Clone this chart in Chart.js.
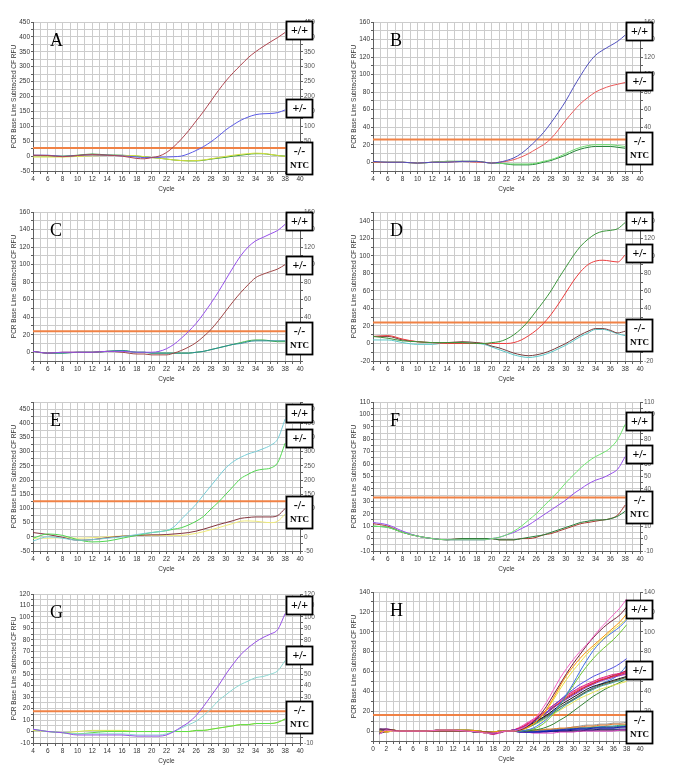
<!DOCTYPE html>
<html>
<head>
<meta charset="utf-8">
<script src="https://cdn.jsdelivr.net/npm/chart.js@4/dist/chart.umd.min.js"></script>
<style>
  html, body { margin: 0; padding: 0; background: #fff; }
  #page { position: relative; width: 685px; height: 769px; overflow: hidden; background: #fff; }
  canvas { position: absolute; }
</style>
</head>
<body>
<div id="page"></div>
<script>
// --- cycles ---
const cyc  = [4,6,8,10,12,14,16,18,19,20,21,22,23,24,25,26,27,28,29,30,31,32,33,34,35,36,37,38];
const cycH = [1,2,3,4,6,8,10,12,14,16,17,18,19,20,21,22,23,24,25,26,27,28,29,30,31,32,33,34,35,36,37,38];

// --- A ---
const aPP  = [3,2,-2,2,5,3,0,-8,-9,-5,0,12,32,57,86,118,150,185,220,252,280,305,330,350,367,383,398,415];
const aPM  = [3,3,-1,2,4,3,1,-3,-5,-5,-4,-3,-2,0,8,19,32,48,67,88,105,120,131,139,142,143,146,155];
const aMM  = [2,1,0,3,7,4,3,0,-2,-5,-7,-10,-13,-15,-16,-16,-14,-10,-7,-4,0,3,6,8,8,5,2,0];
const aNTC = [-3,-3,-3,-1,1,2,2,1,-2,-5,-7,-10,-13,-15,-16,-15,-13,-9,-5,-1,3,6,8,10,9,6,2,-1];
// --- B ---
const bPP  = [1,0,0,-1,0,0,1,1,0,-1,0,2,5,10,17,25,34,45,57,70,85,99,112,122,128,133,138,145];
const bPM  = [0,0,0,-1,0,0,1,0,0,-1,0,1,3,6,10,15,20,27,37,48,58,67,74,80,84,87,89,91];
const bMM  = [0,0,0,-1,0,1,1,1,0,-1,-1,-2,-3,-3,-3,-2,0,2,5,8,12,15,17,18,18,18,17,16];
const bNTC = [0,0,0,-1,0,1,1,1,0,-1,-1,-2,-2,-2,-2,-1,1,3,6,10,14,17,19,20,20,20,19,18];
// --- C ---
const cPP  = [1,-1,0,0,0,1,1,0,0,0,1,4,9,16,24,33,44,56,69,83,97,110,120,127,131,135,139,146];
const cPM  = [1,-1,0,0,0,1,0,-2,-2,-3,-3,-3,-1,2,6,11,18,26,36,47,58,68,77,85,89,92,95,100];
const cMM  = [1,-1,-1,0,0,1,2,0,0,-1,-1,-1,-1,-1,-1,0,1,3,5,7,9,10,12,13,13,13,13,13];
const cNTC = [1,-1,-1,0,0,1,2,0,0,-1,-1,-1,-1,-1,-1,0,1,3,5,7,9,11,13,14,14,13,12,12];
// --- D ---
const dPP  = [8,6,3,2,1,1,1,0,0,1,2,5,10,17,26,37,48,60,74,87,100,111,119,125,128,129,131,138];
const dPM  = [8,9,5,2,1,0,0,0,0,0,0,0,1,4,9,15,23,33,45,58,71,82,90,94,95,94,93,101];
const dMM  = [8,8,4,2,1,1,2,1,0,-3,-5,-8,-11,-13,-14,-13,-11,-8,-4,0,5,10,14,17,17,15,12,14];
const dNTC = [4,4,1,-1,-1,1,1,0,-1,-4,-7,-10,-13,-15,-16,-15,-13,-10,-6,-2,3,8,12,16,16,14,11,9];
// --- E ---
const ePP  = [-15,0,-5,-12,-10,-5,0,8,12,15,18,22,35,62,88,115,148,180,212,243,265,280,292,300,310,322,345,415];
const ePM  = [-5,10,5,-10,-18,-15,-5,5,10,15,18,22,27,32,42,55,72,98,122,150,178,205,220,233,238,242,262,330];
const eMM  = [15,8,-2,-12,-10,-3,2,5,6,7,7,8,10,12,15,20,27,35,43,50,57,65,68,70,70,70,75,100];
const eNTC = [-5,-5,-3,-5,-3,0,3,5,5,5,5,5,5,5,8,12,18,25,32,40,47,55,56,55,52,50,55,80];
// --- F ---
const fPP  = [10,9,5,2,0,-1,-1,-1,-1,0,1,3,6,10,15,20,26,32,38,45,51,57,62,66,69,73,80,92];
const fPM  = [13,11,6,2,0,-1,-1,-1,-1,0,1,3,5,8,11,15,19,23,27,31,36,40,44,47,49,52,56,66];
const fMM  = [10,9,5,2,0,-1,0,0,0,0,-1,-1,-1,0,1,2,3,5,7,9,11,13,14,15,15,16,18,22];
const fNTC = [12,10,5,2,0,-1,0,0,0,0,-1,-1,-1,0,0,1,3,4,6,8,10,12,13,14,15,16,19,27];
// --- G ---
const gPP  = [2,0,-1,-3,-3,-3,-3,-4,-4,-4,-4,-3,0,4,8,14,22,31,40,50,59,67,73,78,82,85,89,103];
const gPM  = [2,0,-1,-2,-2,-2,-2,-3,-3,-3,-3,-2,0,3,6,9,14,20,27,32,37,41,44,47,48,50,53,62];
const gMM  = [2,0,-1,-2,-1,0,0,0,0,0,0,0,0,0,0,1,1,2,3,4,5,6,6,7,7,7,8,11];
const gNTC = [1,0,-1,0,1,1,1,0,0,0,0,0,0,0,0,1,1,2,3,4,5,6,6,7,7,7,8,11];
// --- H: +/+ ---
const h1 = [-3,1,0,0,0,0,1,1,0,-1,-2,-2,-1,0,0,2,5,11,19,29,41,53,63,72,80,87,95,103,110,117,124,133];
const h2 = [2,2,1,0,0,0,0,0,0,-1,-1,-2,-1,0,0,1,4,9,16,25,36,47,58,68,77,86,94,101,107,112,117,125];
const h3 = [-1,0,1,0,0,0,1,1,1,0,-1,-1,0,0,0,1,3,7,13,22,33,45,56,65,73,80,86,92,98,104,110,118];
const h4 = [0,-1,0,0,0,0,0,0,0,-1,-2,-1,-1,0,0,1,3,7,13,21,31,42,52,61,69,77,84,90,96,102,107,113];
const h5 = [-3,1,0,0,0,0,1,1,0,-1,-2,-2,-1,0,0,0,1,3,7,12,19,27,37,48,60,71,81,89,95,100,105,112];
const h6 = [-1,0,1,0,0,0,1,1,1,0,-1,-1,0,0,0,0,1,2,5,10,17,26,36,46,56,65,73,80,86,92,99,107];
// --- H: +/- ---
const m1  = [2,2,1,0,0,0,0,0,0,-1,-1,-2,-1,0,1,2,5,9,14,19,25,31,37,42,47,51,55,58,61,64,68,73];
const m2  = [-3,1,0,0,0,0,1,1,0,-1,-2,-3,-1,0,1,3,7,11,16,21,26,31,36,40,44,47,50,53,55,57,58,60];
const m3  = [0,-1,0,0,0,0,0,0,0,-1,-2,-2,-1,0,1,3,6,10,14,19,24,29,34,38,42,45,48,51,53,55,57,59];
const m4  = [-1,0,1,0,0,0,1,1,1,0,-1,-1,0,0,1,3,6,10,14,18,23,28,32,36,40,44,47,50,52,54,56,58];
const m5  = [-2,1,0,0,0,0,0,0,0,-1,-1,-1,-1,0,0,2,5,8,12,16,21,26,30,34,38,42,45,47,49,51,53,55];
const m6  = [1,1,1,0,0,0,1,1,0,-1,-1,-1,0,0,0,1,4,7,11,15,19,24,28,32,36,40,43,46,48,50,52,54];
const m7  = [0,0,0,0,0,0,0,1,0,-1,-1,-1,-1,0,0,1,3,6,10,14,18,22,27,31,35,39,42,45,47,49,51,52];
const m8  = [1,-1,0,0,0,0,0,0,0,0,-1,-1,0,0,0,1,3,6,9,13,17,21,25,29,33,36,39,42,44,46,48,50];
const m9  = [-2,0,1,0,0,0,1,1,0,-1,-1,-1,-1,0,0,0,0,1,2,4,7,11,15,20,25,30,35,39,43,46,49,53];
const m10 = [2,1,0,0,0,0,0,0,0,-1,-2,-3,-1,0,1,3,6,10,14,19,24,28,33,37,41,45,48,51,53,56,58,61];
const m11 = [-1,2,1,0,0,0,1,1,0,-1,-2,-3,-2,0,1,4,8,12,16,21,26,30,35,39,43,46,49,52,54,55,56,57];
const m12 = [0,0,0,0,0,0,0,0,0,-1,-1,-1,-1,0,1,2,5,8,12,16,20,24,28,32,36,40,44,47,50,53,58,66];
// --- H: -/- and NTC ---
const n1  = [-2,0,0,0,0,0,1,1,0,-1,-1,-1,-1,0,0,-1,-1,-1,-1,0,0,1,1,2,2,2,3,3,3,3,4,4];
const n2  = [1,0,0,0,0,0,0,0,0,-1,-1,-1,0,0,0,0,-1,-1,0,0,1,1,2,2,3,3,3,4,4,4,4,5];
const n3  = [0,1,0,0,0,0,1,1,0,-1,-1,-1,-1,0,0,0,0,1,1,2,2,3,3,4,4,5,5,6,6,7,7,7];
const n4  = [-1,0,0,0,0,0,0,0,0,-1,-1,-1,0,0,0,0,0,0,1,1,2,2,3,4,5,6,6,7,7,8,8,9];
const n5  = [2,1,0,0,0,0,1,1,1,0,-1,-1,0,0,0,0,0,0,0,1,1,2,2,3,3,3,4,4,4,4,5,5];
const n6  = [0,2,1,0,0,0,0,0,0,-1,-2,-3,-2,0,0,-1,-1,-2,-2,-2,-2,-1,-1,-1,0,0,0,0,0,0,1,1];
const n7  = [-2,-1,0,0,0,0,0,1,0,-1,-1,-1,-1,0,0,-1,-1,-1,-1,-1,0,0,0,1,1,1,1,2,2,2,2,2];
const n8  = [1,0,0,0,0,0,0,0,0,0,-1,-1,-1,0,0,0,0,0,0,0,0,0,0,0,0,1,1,1,1,1,1,1];
const n9  = [0,1,1,0,0,0,1,1,0,-1,-1,-1,0,0,0,0,0,1,1,1,2,2,2,3,3,3,3,3,4,4,4,4];
const n10 = [-1,0,0,0,0,0,0,0,0,-1,-1,-1,-1,0,0,0,0,0,0,1,1,1,2,2,3,3,4,4,5,5,6,6];

const FONT = '"Liberation Sans", Arial, sans-serif';
const GRID = 'rgb(204,204,204)';
const AXIS = 'rgb(95,95,95)';
const THR = 'rgb(240,130,70)';
Chart.defaults.font.family = FONT;
Chart.defaults.color = '#333';

const panels = [
  { letter: 'A', left: 0, top: 0, x: cyc, xMin: 4, yMin: -50, yMax: 450, step: 25, lab: 50, thr: 27, boxX: 38.1, boxTops: [452, 192, 48],
    series: [[aPP, 'rgb(175,70,80)'], [aPM, 'rgb(90,90,230)'], [aNTC, 'rgb(215,225,60)'], [aMM, 'rgb(50,150,50)']] },
  { letter: 'B', left: 340, top: 0, x: cyc, xMin: 4, yMin: -10, yMax: 160, step: 10, lab: 20, thr: 26, boxX: 38.1, boxTops: [160, 103, 35],
    series: [[bPP, 'rgb(80,80,190)'], [bPM, 'rgb(235,90,90)'], [bNTC, 'rgb(110,220,110)'], [bMM, 'rgb(30,130,50)']] },
  { letter: 'C', left: 0, top: 190, x: cyc, xMin: 4, yMin: -10, yMax: 160, step: 10, lab: 20, thr: 24, boxX: 38.1, boxTops: [160, 110, 34],
    series: [[cPP, 'rgb(150,80,235)'], [cPM, 'rgb(160,70,70)'], [cMM, 'rgb(40,140,150)'], [cNTC, 'rgb(70,180,70)']] },
  { letter: 'D', left: 340, top: 190, x: cyc, xMin: 4, yMin: -20, yMax: 150, step: 10, lab: 20, thr: 24, boxX: 38.1, boxTops: [150, 113, 28],
    series: [[dPP, 'rgb(60,150,60)'], [dPM, 'rgb(235,60,60)'], [dMM, 'rgb(120,60,60)'], [dNTC, 'rgb(90,200,200)']] },
  { letter: 'E', left: 0, top: 380, x: cyc, xMin: 4, yMin: -50, yMax: 475, step: 25, lab: 50, thr: 125, boxX: 38.1, boxTops: [469, 381, 143],
    series: [[ePP, 'rgb(120,205,215)'], [ePM, 'rgb(80,215,80)'], [eMM, 'rgb(130,50,60)'], [eNTC, 'rgb(240,235,120)']] },
  { letter: 'F', left: 340, top: 380, x: cyc, xMin: 4, yMin: -10, yMax: 110, step: 5, lab: 10, thr: 33, boxX: 38.1, boxTops: [102, 75, 38],
    series: [[fPP, 'rgb(110,230,110)'], [fPM, 'rgb(150,80,235)'], [fMM, 'rgb(40,130,60)'], [fNTC, 'rgb(170,60,50)']] },
  { letter: 'G', left: 0, top: 572, x: cyc, xMin: 4, yMin: -10, yMax: 120, step: 5, lab: 10, thr: 17.6, boxX: 38.1, boxTops: [118, 75, 27],
    series: [[gPP, 'rgb(150,80,230)'], [gPM, 'rgb(140,215,210)'], [gMM, 'rgb(90,220,70)'], [gNTC, 'rgb(215,230,80)']] },
  { letter: 'H', left: 340, top: 570, x: cycH, xMin: 0, yMin: -10, yMax: 140, step: 10, lab: 20, thr: 16.3, boxX: 37.9, boxTops: [132, 71, 20.5],
    series: [
      [h1, 'rgb(245,100,200)'], [h2, 'rgb(120,30,60)'], [h3, 'rgb(255,150,0)'], [h4, 'rgb(235,225,60)'], [h5, 'rgb(60,110,230)'], [h6, 'rgb(110,200,50)'],
      [m1, 'rgb(80,80,230)'], [m2, 'rgb(225,30,120)'], [m3, 'rgb(230,40,40)'], [m4, 'rgb(140,60,200)'], [m5, 'rgb(20,20,20)'], [m6, 'rgb(100,100,60)'],
      [m7, 'rgb(40,150,150)'], [m8, 'rgb(230,230,80)'], [m9, 'rgb(50,130,50)'], [m10, 'rgb(150,20,60)'], [m11, 'rgb(240,80,180)'], [m12, 'rgb(60,120,230)'],
      [n1, 'rgb(20,20,180)'], [n2, 'rgb(40,60,220)'], [n3, 'rgb(230,120,40)'], [n4, 'rgb(150,150,150)'], [n5, 'rgb(60,180,60)'],
      [n6, 'rgb(220,60,200)'], [n7, 'rgb(10,10,120)'], [n8, 'rgb(0,0,0)'], [n9, 'rgb(230,230,60)'], [n10, 'rgb(40,160,160)']
    ] }
];

const page = document.getElementById('page');

function makePanel(p) {
  const cv = document.createElement('canvas');
  cv.width = 340;
  cv.height = 197;
  cv.style.left = p.left + 'px';
  cv.style.top = p.top + 'px';
  page.appendChild(cv);

  // threshold first, curves on top
  const datasets = [{
    data: [{ x: p.xMin, y: p.thr }, { x: p.boxX, y: p.thr }],
    borderColor: THR, borderWidth: 2, pointRadius: 0, tension: 0, order: 5
  }];
  p.series.forEach(([vals, col]) => {
    datasets.push({
      data: p.x.map((c, i) => ({ x: c, y: vals[i] })),
      borderColor: col, borderWidth: 1, pointRadius: 0,
      cubicInterpolationMode: 'monotone', order: 1
    });
  });

  const tickFont = { size: 6.5, family: FONT };
  const yLabel = v => (v % p.lab === 0 ? String(v) : '');

  // letter and genotype boxes
  const overlay = {
    id: 'overlay',
    afterDraw(chart) {
      const ctx = chart.ctx;
      const area = chart.chartArea;
      const xs = chart.scales.x, ys = chart.scales.y;
      ctx.save();
      ctx.fillStyle = '#000';
      ctx.font = '18px "Liberation Serif", "Times New Roman", serif';
      ctx.textBaseline = 'top';
      ctx.textAlign = 'left';
      ctx.fillText(p.letter, area.left + 17, area.top + 10);

      const bx = Math.round(xs.getPixelForValue(p.boxX)) + 0.5;
      const names = [['+/+'], ['+/-'], ['-/-', 'NTC']];
      p.boxTops.forEach((t, i) => {
        const by = Math.round(ys.getPixelForValue(t)) + 0.5;
        const h = i === 2 ? 32 : 18;
        ctx.fillStyle = '#fff';
        ctx.fillRect(bx, by, 26, h);
        ctx.strokeStyle = '#000';
        ctx.lineWidth = 1.8;
        ctx.strokeRect(bx, by, 26, h);
        ctx.fillStyle = '#000';
        ctx.textAlign = 'center';
        ctx.textBaseline = 'middle';
        if (i < 2) {
          ctx.font = 'bold 12px "Liberation Serif", serif';
          ctx.fillText(names[i][0], bx + 13, by + h / 2 + 0.5);
        } else {
          ctx.font = 'bold 12px "Liberation Serif", serif';
          ctx.fillText('-/-', bx + 13, by + 9);
          ctx.font = 'bold 9px "Liberation Serif", serif';
          ctx.fillText('NTC', bx + 13, by + 23);
        }
      });
      ctx.restore();
    }
  };

  new Chart(cv, {
    type: 'line',
    data: { datasets },
    options: {
      responsive: false,
      animation: false,
      devicePixelRatio: 1,
      layout: { padding: { top: 22, left: 10, right: 0, bottom: 4 } },
      plugins: { legend: { display: false }, tooltip: { enabled: false } },
      scales: {
        x: {
          type: 'linear', min: p.xMin, max: 40,
          afterFit: s => { s.height = 22; },
          grid: { color: GRID, tickColor: AXIS, tickLength: 3 },
          border: { color: AXIS },
          ticks: { stepSize: 1, autoSkip: false, maxRotation: 0, padding: 1, font: tickFont,
                   callback: v => (v % 2 === 0 ? String(v) : '') },
          title: { display: true, text: 'Cycle', font: tickFont, padding: 0 }
        },
        y: {
          position: 'left', min: p.yMin, max: p.yMax,
          afterFit: s => { s.width = 23; },
          grid: { color: GRID, tickColor: AXIS, tickLength: 2 },
          border: { color: AXIS },
          ticks: { stepSize: p.step, autoSkip: false, padding: 1, font: tickFont, callback: yLabel },
          title: { display: true, text: 'PCR Base Line Subtracted CF RFU', font: tickFont, padding: 0 }
        },
        y2: {
          position: 'right', min: p.yMin, max: p.yMax,
          afterFit: s => { s.width = 40; },
          grid: { drawOnChartArea: false, color: AXIS, tickLength: 3 },
          border: { color: AXIS },
          ticks: { stepSize: p.step, autoSkip: false, padding: 1, font: tickFont, color: '#555', callback: yLabel }
        }
      }
    },
    plugins: [overlay]
  });
}

panels.forEach(makePanel);
</script>
</body>
</html>
